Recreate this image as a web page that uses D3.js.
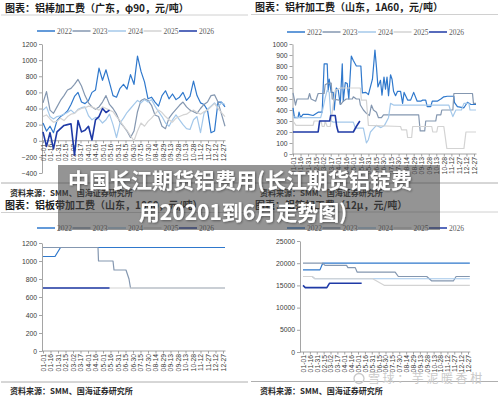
<!DOCTYPE html>
<html>
<head>
<meta charset="utf-8">
<script src="https://cdn.jsdelivr.net/npm/d3@7"></script>
<style>
    body { margin: 0; background: #fff; }
    svg text { font-family: "Noto Sans CJK SC", "Noto Sans", sans-serif; }
    .axis text { font-family: Arial, "Liberation Sans", sans-serif; font-size: 6.8px; fill: #3a3a3a; }
    .axis path, .axis line { stroke: #8e8e8e; stroke-width: 0.8; }
</style>
</head>
<body>
<svg id="chart" width="500" height="396"></svg>
<script>
// years shown in every legend
const years = ["2022", "2023", "2024", "2025", "2026"];
const xTickLabels = ["01-01", "01-16", "01-31", "02-15", "03-02", "03-17", "04-01", "04-16", "05-01", "05-16",
    "05-31", "06-15", "06-30", "07-15", "07-30", "08-14", "08-29", "09-13", "09-28", "10-13",
    "10-28", "11-12", "11-27", "12-12", "12-27"];

// 铝棒加工费, one value per week (day 0, 7, 14 ...)
const rod2022 = [220, 120, 180, 100, 250, 300, 330, 370, 450, 550, 600, 480, 460, 500, 600, 630, 900, 750, 880, 720,
    560, 540, 650, 700, 640, 820, 700, 1050, 860, 730, 520, 540, 480, 430, 560, 620, 520, 580, 510, 540,
    600, 500, 550, 740, 560, 470, 450, 380, 100, 120, 480, 480, 420];
const rod2023 = [470, 610, 380, 340, 420, 500, 560, 630, 650, 700, 760, 680, 560, 470, 420, 390, 420, 480, 560, 450,
    400, 330, 230, 180, 120, 40, 120, 360, 500, 520, 500, 440, 320, 300, 180, 150, 280, 340, 390, 440,
    480, 420, 380, 360, 340, 400, 450, 480, 560, 570, 480, 330, 180];
const rod2024 = [380, 420, 300, 270, 300, 310, 330, 350, 380, 340, 390, 410, 420, 310, 260, 290, 270, 220, 260, 330,
    200, 40, 220, 280, 350, 400, 450, 500, 470, 510, 480, 510, 430, 360, 300, 220, 180, 260, 320, 260,
    200, 150, 140, 260, 300, 100, 340, 390, 430, 470, 420, 470, 450];
const rod2025 = [300, 320, 270, 230, 240, 280, 250, 300, 330, 340, 380, 400, 410, 430, 420, 400, 380, 420, 400, 380,
    360, 300, 250, 180, 130, 60, 0, 120, 220, 180, 240, 280, 330, 380, 350, 300, 260, 230, 280, 300,
    320, 330, 360, 380, 350, 330, 360, 380, 420, 460, 400, 350, 300];
const rod2026 = [110, -70, 100, -100, 110, 150, 190, 200, 210, -180, 250, 110, 130, 180, 10, 260, 300, 400, 350, 380];

// 铝杆加工费, [day of year, value]
const bar2022 = [[0, 420], [3, 330], [10, 330], [12, 380], [15, 330], [20, 360], [30, 360], [40, 350], [50, 380], [58, 380],
    [62, 820], [68, 820], [70, 580], [72, 680], [76, 560], [80, 560], [82, 400], [86, 600], [90, 580], [94, 450],
    [98, 820], [100, 480], [104, 650], [108, 640], [111, 500], [116, 890], [120, 850], [126, 800], [135, 800], [138, 555],
    [145, 560], [150, 540], [158, 680], [163, 945], [166, 790], [169, 610], [174, 670], [177, 535], [181, 700], [184, 590],
    [187, 700], [190, 530], [194, 720], [197, 680], [200, 570], [204, 530], [208, 570], [214, 570], [218, 460], [221, 560],
    [228, 490], [234, 490], [240, 560], [247, 480], [254, 480], [258, 490], [264, 490], [267, 430], [274, 430], [277, 480],
    [287, 480], [294, 500], [300, 520], [307, 525], [320, 525], [321, 470], [327, 430], [340, 420], [347, 470], [354, 450], [364, 450]];
const bar2023 = [[0, 555], [3, 490], [5, 445], [8, 500], [30, 500], [33, 550], [36, 500], [45, 480], [50, 550], [62, 550],
    [64, 630], [70, 645], [76, 645], [78, 500], [92, 490], [95, 450], [100, 480], [106, 500], [118, 500], [120, 520],
    [126, 500], [132, 500], [134, 445], [140, 400], [146, 370], [152, 350], [156, 445], [160, 400], [166, 380], [170, 330],
    [176, 330], [180, 355], [250, 355], [253, 210], [262, 210], [264, 300], [284, 300], [286, 355], [294, 355], [296, 400],
    [318, 400], [320, 550], [357, 550], [359, 460], [364, 460]];
const bar2024 = [[0, 340], [10, 330], [55, 330], [58, 380], [64, 510], [68, 580], [72, 560], [76, 300], [80, 290], [120, 290],
    [124, 235], [140, 235], [146, 100], [150, 130], [154, 200], [160, 230], [166, 260], [175, 240], [182, 260], [190, 330],
    [194, 460], [200, 445], [310, 445], [313, 400], [318, 340], [324, 400], [335, 400], [340, 460], [350, 460], [352, 400], [364, 400]];
const bar2025 = [[0, 300], [6, 260], [40, 260], [42, 300], [56, 300], [58, 250], [62, 250], [64, 300], [68, 250], [74, 250],
    [84, 580], [95, 600], [134, 600], [136, 490], [146, 490], [150, 260], [214, 250], [216, 220], [226, 220], [228, 150],
    [236, 150], [238, 250], [276, 250], [278, 200], [286, 200], [288, 250], [300, 250], [306, 50], [340, 50], [344, 200], [364, 200]];
const bar2026 = [[0, 200], [50, 200], [53, 300], [73, 300], [75, 350], [84, 350], [87, 250], [90, 200], [120, 200], [126, 250], [133, 300]];

// 铝板带加工费
const sheet2022 = [[0, 1050], [24, 1050], [35, 1150], [364, 1150]];
const sheet2023 = [[0, 1150], [110, 1150], [111, 1000], [140, 1000], [142, 900], [166, 900], [172, 800], [175, 700], [364, 700]];
const sheet2024 = [[0, 1150], [364, 1150]];
const sheet2025 = [[0, 700], [364, 700]];
const sheet2026 = [[0, 700], [133, 700]];

// 铝箔加工费
const foil2022 = [[0, 18500], [37, 18500], [43, 20000], [364, 20000]];
const foil2023 = [[0, 20000], [43, 20000], [48, 19500], [95, 19500], [98, 19000], [114, 19000], [118, 18000], [201, 18000],
    [208, 17000], [270, 17000], [281, 16000], [328, 16000], [334, 17000], [364, 17000]];
const foil2024 = [[0, 17000], [20, 17000], [26, 16500], [364, 16500]];
const foil2025 = [[0, 17000], [20, 17000], [26, 16500], [152, 16500], [178, 15000], [364, 15000]];
const foil2026 = [[0, 15000], [5, 14500], [52, 14500], [58, 15500], [128, 15500]];

const colors = ["#2f78cc", "#8497b0", "#a4c8ea", "#d3d3d3", "#1f3aa6"];

function weekly(values) {
    return values.map((v, i) => [i * 7, v]);
}

const svg = d3.select("#chart");

function drawPanel(p) {
    const g = svg.append("g");

    //Title and rule under it
    g.append("text")
        .attr("x", p.ox + 5)
        .attr("y", p.titleY)
        .attr("font-size", 10)
        .attr("font-weight", 700)
        .attr("fill", "#1c1c1c")
        .text(p.title);
    g.append("line")
        .attr("x1", p.ox + 1).attr("x2", p.ox + 248)
        .attr("y1", p.titleY + 3.5).attr("y2", p.titleY + 3.5)
        .attr("stroke", "#c4c4c4").attr("stroke-width", 0.8);

    //Legend
    years.forEach((yr, i) => {
        const lx = p.ox + 37 + 35.5 * i;
        g.append("line")
            .attr("x1", lx).attr("x2", lx + 18)
            .attr("y1", p.legendY).attr("y2", p.legendY)
            .attr("stroke", colors[i]).attr("stroke-width", 1.5);
        g.append("text")
            .attr("x", lx + 20)
            .attr("y", p.legendY + 2.5)
            .attr("font-size", 7.5)
            .attr("fill", "#606060")
            .style("font-family", "'Liberation Serif', 'DejaVu Serif', serif")
            .text(yr);
    });

    const xScale = d3.scaleLinear().domain([0, 365]).range(p.xRange);
    const yScale = d3.scaleLinear().domain(p.yDomain).range(p.yRange);

    g.append("g")
        .attr("class", "axis")
        .attr("transform", "translate(" + p.yAxisX + ",0)")
        .call(d3.axisLeft(yScale)
            .tickValues(p.yTicks)
            .tickFormat(d3.format("d"))
            .tickSize(3)
            .tickPadding(2)
            .tickSizeOuter(0));

    const xAxis = g.append("g")
        .attr("class", "axis")
        .attr("transform", "translate(0," + yScale(p.xAxisAt) + ")")
        .call(d3.axisBottom(xScale)
            .tickValues(xTickLabels.map((d, i) => i * 15))
            .tickFormat((d, i) => xTickLabels[i])
            .tickSize(2.5)
            .tickSizeOuter(0));
    xAxis.select(".domain").attr("d", "M" + p.yAxisX + ",0H" + p.xRange[1]);
    xAxis.selectAll("text")
        .attr("x", -3)
        .attr("y", 0)
        .attr("dy", "0.35em")
        .attr("transform", "rotate(-90)")
        .attr("text-anchor", "end");

    const line = d3.line()
        .x(d => xScale(d[0]))
        .y(d => yScale(d[1]));

    p.order.forEach(i => {
        g.append("path")
            .datum(p.series[i])
            .attr("d", line)
            .attr("fill", "none")
            .attr("stroke", colors[i])
            .attr("stroke-width", i === 4 ? 1.6 : 1.2)
            .attr("stroke-linejoin", "round");
    });

    //Source line at the bottom
    g.append("line")
        .attr("x1", p.ox + 1).attr("x2", p.ox + 248)
        .attr("y1", p.sepY).attr("y2", p.sepY)
        .attr("stroke", "#9a9a9a").attr("stroke-width", 0.8);
    g.append("text")
        .attr("x", p.ox + 10)
        .attr("y", p.srcY)
        .attr("font-size", 8)
        .attr("font-weight", 700)
        .attr("fill", "#2a2a2a")
        .text("资料来源：SMM、国海证券研究所");
}

drawPanel({
    ox: 0, titleY: 11.5, legendY: 31,
    title: "图表：铝棒加工费（广东，φ90，元/吨）",
    xRange: [43, 225.5], yAxisX: 42,
    yDomain: [-400, 1200], yRange: [173, 44], yTicks: d3.range(-400, 1201, 200), xAxisAt: 0,
    series: [rod2022, rod2023, rod2024, rod2025, rod2026].map(weekly),
    order: [0, 1, 2, 3, 4],
    sepY: 183, srcY: 196
});

drawPanel({
    ox: 250, titleY: 11, legendY: 32,
    title: "图表：铝杆加工费（山东，1A60，元/吨）",
    xRange: [293, 476.5], yAxisX: 292.5,
    yDomain: [0, 1000], yRange: [154, 44], yTicks: d3.range(0, 1001, 100), xAxisAt: 0,
    series: [bar2022, bar2023, bar2024, bar2025, bar2026],
    order: [0, 1, 2, 3, 4],
    sepY: 183, srcY: 196
});

drawPanel({
    ox: 0, titleY: 209, legendY: 228,
    title: "图表：铝板带加工费（山东，1060，元/吨）",
    xRange: [43, 225.5], yAxisX: 42,
    yDomain: [0, 1200], yRange: [351, 243], yTicks: d3.range(0, 1201, 200), xAxisAt: 0,
    series: [sheet2022, sheet2023, sheet2024, sheet2025, sheet2026],
    order: [2, 0, 1, 3, 4],
    sepY: 382, srcY: 393.5
});

drawPanel({
    ox: 250, titleY: 208.5, legendY: 228,
    title: "图表：铝箔加工费（12μ，元/吨）",
    xRange: [303, 470.3], yAxisX: 300,
    yDomain: [0, 25000], yRange: [352, 241], yTicks: d3.range(0, 25001, 5000), xAxisAt: 0,
    series: [foil2022, foil2023, foil2024, foil2025, foil2026],
    order: [0, 1, 2, 3, 4],
    sepY: 381.5, srcY: 393.5
});

//Watermark
svg.append("circle")
    .attr("cx", 359).attr("cy", 378.5).attr("r", 5)
    .attr("fill", "none").attr("stroke", "#c8c8c8").attr("stroke-width", 1.3);
svg.append("text")
    .attr("x", 368).attr("y", 383)
    .attr("font-size", 12)
    .attr("letter-spacing", 2.6)
    .attr("fill", "#cacaca")
    .text("雪球：芋泥暖香柑");

//Grey headline box over the middle
const defs = svg.append("defs");
defs.append("filter").attr("id", "shadow")
    .append("feDropShadow")
    .attr("dx", 0.8).attr("dy", 0.8).attr("stdDeviation", 0.8)
    .attr("flood-color", "#000").attr("flood-opacity", 0.45);

svg.append("rect")
    .attr("x", 58).attr("y", 165)
    .attr("width", 382).attr("height", 65)
    .attr("fill", "rgba(70,70,70,0.58)");

const headline = ["中国长江期货铝费用(长江期货铝锭费", "用20201到6月走势图)"];
svg.selectAll(".headline")
    .data(headline)
    .enter()
    .append("text")
    .attr("class", "headline")
    .attr("x", (d, i) => i === 0 ? 240 : 243)
    .attr("y", (d, i) => 188 + i * 32)
    .attr("text-anchor", "middle")
    .attr("font-size", 21)
    .attr("font-weight", 700)
    .attr("fill", "#fff")
    .attr("filter", "url(#shadow)")
    .text(d => d);
</script>
</body>
</html>
